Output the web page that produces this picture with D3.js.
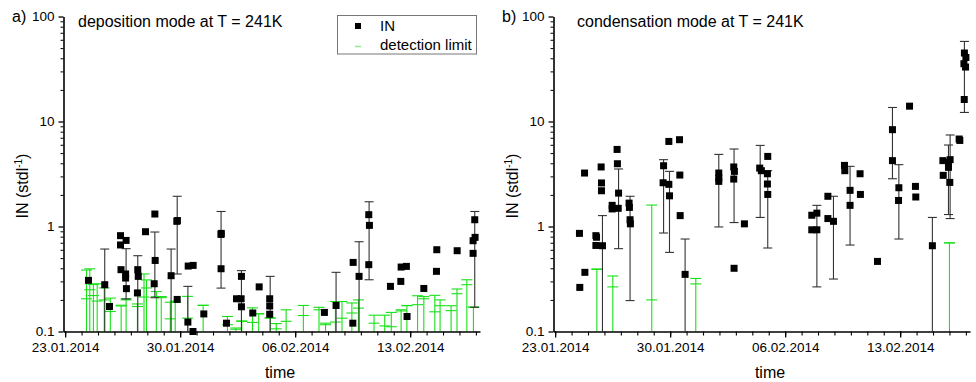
<!DOCTYPE html>
<html>
<head>
<meta charset="utf-8">
<script src="https://cdn.jsdelivr.net/npm/d3@7"></script>
<style>
  body { margin: 0; background: #fff; }
  svg text { font-family: "Liberation Sans", Arial, sans-serif; fill: #000; }
</style>
</head>
<body>
<svg id="chart" width="976" height="382"></svg>
<script>
// days are counted from 23.01.2014 00:00
const xTickLabels = ['23.01.2014', '30.01.2014', '06.02.2014', '13.02.2014'];
const yTickValues = [0.1, 1, 10, 100];

// panel a) deposition mode: IN points [day, value]
const depIN = [
  [1.42, 0.307], [2.41, 0.279], [2.70, 0.173], [3.37, 0.818], [3.37, 0.667], [3.71, 0.737],
  [3.40, 0.388], [3.68, 0.353], [3.68, 0.323], [3.73, 0.256], [4.42, 0.388], [4.45, 0.335],
  [4.40, 0.233], [4.89, 0.892], [5.46, 1.315], [5.48, 0.475], [5.42, 0.285], [6.45, 0.34],
  [6.80, 1.12], [6.83, 1.14], [6.82, 0.202], [7.47, 0.123], [7.49, 0.42], [7.79, 0.426],
  [7.78, 0.1], [8.44, 0.147], [9.49, 0.84], [9.50, 0.86], [9.49, 0.396], [9.82, 0.12],
  [10.43, 0.205], [10.71, 0.205], [10.73, 0.335], [10.73, 0.172], [11.42, 0.15], [11.81, 0.266],
  [12.45, 0.205], [12.45, 0.175], [12.45, 0.146], [15.78, 0.152], [16.49, 0.177], [17.51, 0.12],
  [17.53, 0.455], [17.89, 0.335], [18.48, 1.296], [18.52, 1.025], [18.48, 0.433], [19.80, 0.269],
  [20.43, 0.30], [20.45, 0.411], [20.77, 0.417], [20.81, 0.139], [21.83, 0.257], [22.62, 0.601],
  [22.60, 0.374], [23.86, 0.588], [24.83, 0.732], [24.95, 0.788], [24.93, 1.16], [24.83, 0.555]
];
// IN error bars [day, low, high]
const depErr = [
  [2.41, 0.01, 0.61], [3.71, 0.204, 0.615], [4.42, 0.01, 0.527], [5.46, 0.21, 0.886],
  [6.45, 0.01, 0.61], [6.82, 0.353, 1.94], [7.47, 0.01, 0.269], [9.49, 0.259, 1.39],
  [10.73, 0.01, 0.38], [12.48, 0.01, 0.335], [16.49, 0.01, 0.366], [17.89, 0.01, 0.716],
  [18.50, 0.311, 1.72], [24.93, 0.17, 1.39]
];
// detection limit [day, value, upper bar]
const depDL = [
  [1.30, 0.205, 0.385], [1.50, 0.25, 0.395], [1.72, 0.22, 0.28], [1.95, 0.195, 0.285],
  [2.38, 0.2, 0.26], [2.75, 0.155, 0.208], [3.41, 0.175, 0.178], [3.71, 0.2, 0.205],
  [4.40, 0.173, 0.183], [4.80, 0.213, 0.353], [4.95, 0.26, 0.31], [5.55, 0.215, 0.24],
  [5.85, 0.21, 0.215], [6.40, 0.132, 0.19], [6.70, 0.19, 0.195], [7.45, 0.134, 0.216],
  [8.40, 0.177, 0.178], [9.88, 0.116, 0.139], [10.39, 0.105, 0.108], [10.75, 0.125, 0.126],
  [11.40, 0.122, 0.168], [11.78, 0.147, 0.148], [12.48, 0.134, 0.135], [12.85, 0.106, 0.119],
  [13.45, 0.125, 0.161], [14.50, 0.142, 0.177], [15.45, 0.161, 0.17], [15.85, 0.116, 0.12],
  [16.45, 0.123, 0.193], [16.85, 0.134, 0.193], [17.45, 0.15, 0.187], [17.85, 0.167, 0.2],
  [18.80, 0.12, 0.143], [19.45, 0.113, 0.143], [19.85, 0.111, 0.152], [20.45, 0.157, 0.161],
  [20.80, 0.176, 0.177], [21.45, 0.18, 0.219], [21.83, 0.205, 0.215], [22.50, 0.154, 0.221],
  [22.82, 0.176, 0.2], [23.49, 0.158, 0.176], [23.85, 0.229, 0.254], [24.45, 0.279, 0.311],
  [24.85, 0.17, 0.171]
];

// panel b) condensation mode
const conIN = [
  [1.48, 0.86], [1.79, 3.23], [1.81, 0.366], [1.50, 0.263], [2.48, 0.818], [2.52, 0.79],
  [2.48, 0.66], [2.88, 0.656], [2.80, 3.69], [2.82, 2.6], [2.82, 2.19], [3.47, 1.59],
  [3.47, 1.47], [3.77, 5.42], [3.79, 3.96], [3.86, 2.08], [3.84, 1.49], [4.50, 1.67],
  [4.52, 1.52], [4.56, 1.16], [4.58, 1.06], [6.60, 3.79], [6.57, 2.61], [6.92, 6.46],
  [6.92, 2.52], [6.96, 1.96], [7.57, 6.71], [7.59, 3.09], [7.61, 1.27], [7.91, 0.35],
  [9.96, 3.23], [9.96, 2.9], [9.96, 2.69], [10.87, 3.69], [10.91, 3.35], [10.87, 2.83],
  [10.89, 0.4], [11.52, 1.06], [12.45, 3.6], [12.55, 3.4], [12.94, 4.65], [12.92, 3.18],
  [12.92, 2.54], [12.94, 2.02], [15.62, 1.28], [15.93, 1.34], [15.62, 0.93], [15.93, 0.93],
  [16.60, 1.94], [16.60, 1.19], [16.94, 1.12], [17.61, 3.82], [17.63, 3.4], [17.95, 2.21],
  [17.95, 1.59], [18.56, 3.18], [18.58, 2.02], [19.62, 0.465], [20.53, 8.36], [20.53, 4.24],
  [20.92, 2.34], [20.90, 1.77], [21.57, 14.0], [21.93, 2.41], [21.95, 1.91], [22.96, 0.656],
  [23.60, 4.24], [23.62, 3.07], [23.94, 4.08], [23.94, 3.66], [24.04, 4.33], [24.02, 2.63],
  [24.59, 6.81], [24.63, 6.6], [24.91, 44.9], [25.00, 40.7], [24.88, 35.5], [24.98, 33],
  [24.90, 16.2]
];
const conErr = [
  [2.88, 0.01, 1.27], [3.86, 0.615, 3.53], [4.56, 0.197, 1.94], [6.60, 0.867, 4.33],
  [6.96, 0.567, 3.35], [7.91, 0.01, 0.76], [9.96, 0.99, 4.86], [10.89, 1.09, 5.47],
  [12.48, 1.22, 5.92], [12.94, 0.624, 3.4], [15.93, 0.266, 1.59], [16.94, 0.316, 1.94],
  [17.95, 0.666, 3.74], [20.53, 2.85, 13.6], [20.92, 0.76, 3.88], [22.96, 0.01, 1.22],
  [24.04, 1.19, 7.44], [23.94, 1.3, 5.97], [24.91, 12.2, 57.9]
];
const conDL = [
  [2.54, 0.39, 0.394], [3.51, 0.266, 0.338], [5.88, 0.2, 1.6], [8.56, 0.284, 0.32],
  [24.00, 0.697, 0.70]
];

const green = '#19e019';
const base = Date.UTC(2014, 0, 23);
const toDate = d => new Date(base + d * 864e5);
const parse = d3.utcParse('%d.%m.%Y');

const svg = d3.select('#chart');

function drawPanel(opts) {
  const x = d3.scaleUtc()
    .domain([toDate(-0.1), toDate(25.25)])
    .range([opts.left, opts.left + 416.5]);
  const y = d3.scaleLog()
    .domain([0.1, 100])
    .range([331.5, 16.5])
    .clamp(true);
  const g = svg.append('g');
  const h = 5.5; // half cap width

  // detection limit
  const dl = g.append('g').attr('stroke', green).attr('stroke-width', 1.1);
  opts.dl.forEach(function(d) {
    const cx = x(toDate(d[0]));
    dl.append('line').attr('x1', cx).attr('x2', cx).attr('y1', y(0.01)).attr('y2', y(d[2]));
    dl.append('line').attr('x1', cx - h).attr('x2', cx + h).attr('y1', y(d[2])).attr('y2', y(d[2]));
    dl.append('line').attr('x1', cx - h).attr('x2', cx + h).attr('y1', y(d[1])).attr('y2', y(d[1]));
  });

  // IN error bars
  const eb = g.append('g').attr('stroke', '#333').attr('stroke-width', 1.1);
  opts.err.forEach(function(d) {
    const cx = x(toDate(d[0]));
    eb.append('line').attr('x1', cx).attr('x2', cx).attr('y1', y(d[1])).attr('y2', y(d[2]));
    eb.append('line').attr('x1', cx - h + 1).attr('x2', cx + h - 1).attr('y1', y(d[2])).attr('y2', y(d[2]));
    if (d[1] > 0.1) {
      eb.append('line').attr('x1', cx - h + 1).attr('x2', cx + h - 1).attr('y1', y(d[1])).attr('y2', y(d[1]));
    }
  });

  // IN points
  g.append('g').selectAll('rect')
    .data(opts.pts)
    .join('rect')
    .attr('x', d => x(toDate(d[0])) - 3.5)
    .attr('y', d => y(d[1]) - 3.5)
    .attr('width', 7)
    .attr('height', 7)
    .attr('fill', '#000');

  // axes
  const majors = xTickLabels.map(parse);
  const xAxis = g.append('g')
    .attr('transform', 'translate(0,331.5)')
    .call(d3.axisBottom(x).tickValues(majors).tickFormat(d3.utcFormat('%d.%m.%Y'))
      .tickSize(6).tickSizeOuter(0).tickPadding(5));
  xAxis.select('.domain').attr('stroke-width', 1.6);
  xAxis.selectAll('.tick line').attr('stroke-width', 1.3);
  xAxis.selectAll('text').attr('font-size', '13.5px').attr('font-family', null);

  g.append('g')
    .attr('transform', 'translate(0,331.5)')
    .call(d3.axisBottom(x).tickValues(d3.utcDay.range(toDate(0), toDate(25.25)))
      .tickFormat('').tickSize(4).tickSizeOuter(0))
    .call(s => s.select('.domain').remove())
    .selectAll('.tick line').attr('stroke-width', 1.1);

  const yAxis = g.append('g')
    .attr('transform', 'translate(' + opts.left + ',0)')
    .call(d3.axisLeft(y).tickValues(yTickValues).tickFormat(d3.format('~g'))
      .tickSize(5).tickSizeOuter(0).tickPadding(4));
  yAxis.select('.domain').attr('stroke-width', 1.6);
  yAxis.selectAll('.tick line').attr('stroke-width', 1.3);
  yAxis.selectAll('text').attr('font-size', '13.5px').attr('font-family', null);

  g.append('g')
    .attr('transform', 'translate(' + opts.left + ',0)')
    .call(d3.axisLeft(y).tickValues(y.ticks().filter(v => yTickValues.indexOf(v) < 0))
      .tickFormat('').tickSize(3).tickSizeOuter(0))
    .call(s => s.select('.domain').remove());

  // labels
  g.append('text')
    .attr('x', opts.left - 51.5)
    .attr('y', 22)
    .attr('font-size', '16px')
    .text(opts.tag);
  g.append('text')
    .attr('x', opts.titleX)
    .attr('y', 27)
    .attr('font-size', '16px')
    .text(opts.title);
  g.append('text')
    .attr('x', opts.left + 216.5)
    .attr('y', 378)
    .attr('text-anchor', 'middle')
    .attr('font-size', '16px')
    .text('time');
  const yl = g.append('text')
    .attr('transform', 'translate(' + (opts.left - 35.5) + ',186)rotate(-90)')
    .attr('text-anchor', 'middle')
    .attr('font-size', '16px');
  yl.append('tspan').text('IN (stdl');
  yl.append('tspan').attr('font-size', '10px').attr('dy', '-6').text('-1');
  yl.append('tspan').attr('dy', '6').text(')');

  if (opts.legend) {
    const lg = g.append('g');
    lg.append('rect')
      .attr('x', 337.5).attr('y', 15.5).attr('width', 139).attr('height', 38.5)
      .attr('fill', '#fff').attr('stroke', '#777').attr('stroke-width', 1);
    lg.append('rect')
      .attr('x', 355).attr('y', 23).attr('width', 6).attr('height', 6).attr('fill', '#000');
    lg.append('line')
      .attr('x1', 355).attr('x2', 361).attr('y1', 46.5).attr('y2', 46.5)
      .attr('stroke', '#8fe98f').attr('stroke-width', 1.5);
    lg.append('text').attr('x', 380).attr('y', 31).attr('font-size', '15px').text('IN');
    lg.append('text').attr('x', 380).attr('y', 50).attr('font-size', '15px').text('detection limit');
  }
}

drawPanel({
  left: 63.5, tag: 'a)', title: 'deposition mode at T = 241K', titleX: 78,
  pts: depIN, err: depErr, dl: depDL, legend: true
});
drawPanel({
  left: 553.5, tag: 'b)', title: 'condensation mode at T = 241K', titleX: 577,
  pts: conIN, err: conErr, dl: conDL, legend: false
});
</script>
</body>
</html>
